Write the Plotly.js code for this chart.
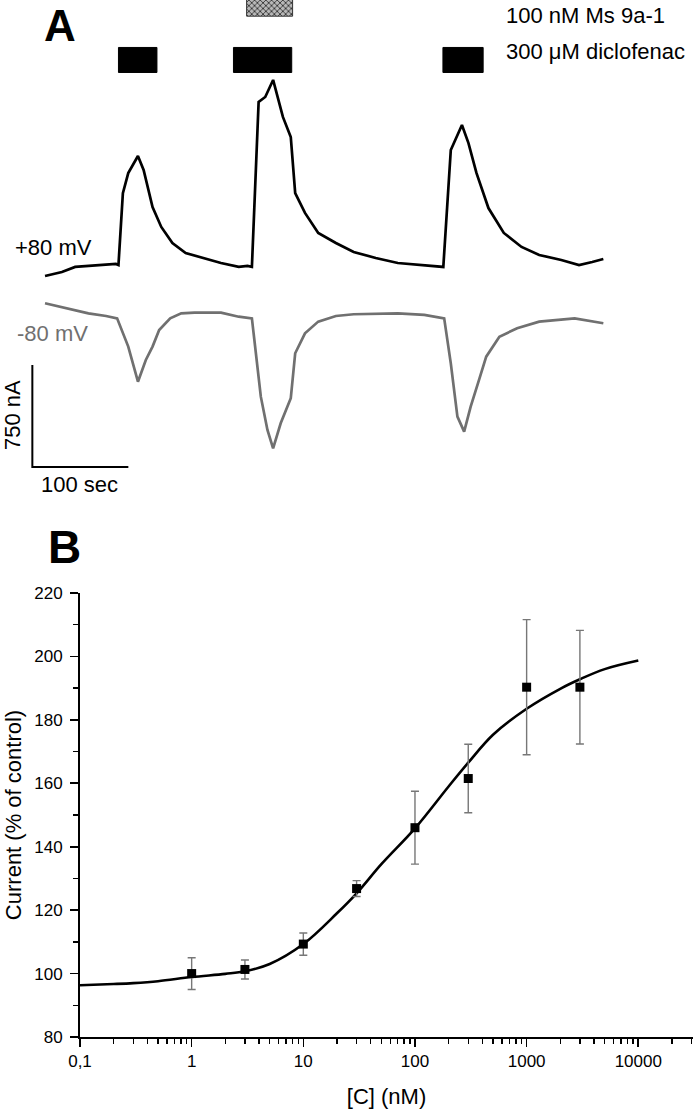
<!DOCTYPE html>
<html>
<head>
<meta charset="utf-8">
<script src="https://cdn.plot.ly/plotly-3.0.1.min.js"></script>
<style>html,body{margin:0;padding:0;background:#fff;} #chart{width:693px;height:1111px;}</style>
</head>
<body>
<div id="chart"></div>
<script>
// ---------- Panel A: two-electrode voltage clamp traces (time in s, current in nA) ----------
const tracePlus80_t = [0, 17.6, 31.4, 45.2, 63.6, 73.8, 76.5, 81.1, 86.7, 96.8, 102.7, 112, 121.1, 132.7, 146.5, 164.9, 183.3, 201.8, 210.9, 215.5,
  222.5, 229.4, 237.6, 247.8, 256.0, 260.6, 270.8, 284.6, 303, 321.5, 344.5, 367.5, 390.5, 408.9, 414.9,
  422.7, 427.3, 434.3, 441.1, 449.4, 461.9, 477.9, 496.4, 514.8, 537.8, 556.3, 570, 581.6];
const tracePlus80_I = [176, 206, 243, 250, 257, 265, 257, 786, 933, 1059, 956, 684, 537, 419, 345, 309, 272, 243, 250, 243,
  1456, 1493, 1618, 1346, 1199, 786, 640, 493, 419, 353, 309, 272, 257, 243, 243,
  1103, 1176, 1287, 1154, 934, 676, 493, 390, 331, 294, 257, 279, 301];

const traceMinus80_t = [0, 22.2, 45.2, 63.6, 75.1, 86.7, 96.8, 105, 112, 118.9, 130.4, 141.9, 155.7, 183.3, 201.8, 215.5,
  224.8, 231.7, 237.6, 245.5, 256, 260.6, 270.8, 284.6, 303, 321.5, 367.5, 395.1, 415.8,
  422.7, 429.6, 436.6, 443.4, 452.6, 459.6, 473.3, 491.8, 514.8, 537.8, 551.7, 581.6];
const traceMinus80_I = [-24, -61, -98, -118, -135, -343, -601, -441, -343, -221, -135, -98, -93, -93, -123, -135,
  -711, -956, -1091, -907, -723, -392, -245, -159, -118, -105, -98, -110, -135,
  -466, -858, -968, -784, -576, -417, -270, -208, -159, -142, -135, -171];

// drug application periods (s)
const diclofenacStart = [76.5, 196.3, 414.5];
const diclofenacEnd   = [116.6, 257, 456.4];
const toxinStart = [210];
const toxinEnd   = [257.9];

// scale bar values
const scaleBarSec = 100;
const scaleBarNA = 750;

// ---------- Panel B: concentration-response ----------
const conc = [1, 3, 10, 30, 100, 300, 1000, 3000];
const currentPct = [100, 101.3, 109.3, 126.8, 146, 161.5, 190.3, 190.3];
const currentErr = [5, 3, 3.5, 2.5, 11.5, 10.8, 21.3, 17.9];

const fitX = [0.1, 0.2, 0.3, 0.5, 1, 2, 3, 5, 10, 20, 30, 50, 100, 200, 300, 500, 1000, 2000, 3000, 5000, 10000];
const fitY = [96.3, 96.7, 97.0, 97.6, 98.9, 99.9, 100.7, 103.0, 109.3, 119.0, 125.3, 134.5, 145.8, 159.0, 166.5, 175.3, 183.5, 189.8, 192.8, 196.0, 198.7];

const xTickVals = [0.1, 1, 10, 100, 1000, 10000];
const xTickText = ['0,1', '1', '10', '100', '1000', '10000'];

// ---------- layout helpers ----------
const W = 693, H = 1111;
const px = x => x / W;
const py = y => 1 - y / H;
const FONT = '"Liberation Sans", Arial, Helvetica, sans-serif';
const GRAY = '#707070';

const minorX = [];
for (let d = -1; d <= 4; d++) for (let k = 2; k <= 9; k++) minorX.push(k * Math.pow(10, d));

const durations = (s, e) => s.map((v, i) => e[i] - v);

const barLevelDic = 1834, barLevelTox = 2110, barThick = 184;
const scaleCornerT = -13.2, scaleCornerI = -1228;

const traces = [
  {x: tracePlus80_t, y: tracePlus80_I, xaxis: 'x2', yaxis: 'y2', mode: 'lines',
   line: {color: '#000', width: 2.7}, hoverinfo: 'skip'},
  {x: traceMinus80_t, y: traceMinus80_I, xaxis: 'x2', yaxis: 'y2', mode: 'lines',
   line: {color: GRAY, width: 2.7}, hoverinfo: 'skip'},
  {type: 'bar', orientation: 'h', xaxis: 'x2', yaxis: 'y2',
   base: diclofenacStart, x: durations(diclofenacStart, diclofenacEnd),
   y: diclofenacStart.map(() => barLevelDic), width: barThick,
   marker: {color: '#000', line: {color: '#000', width: 1}}, hoverinfo: 'skip'},
  {type: 'bar', orientation: 'h', xaxis: 'x2', yaxis: 'y2',
   base: toxinStart, x: durations(toxinStart, toxinEnd),
   y: toxinStart.map(() => barLevelTox), width: barThick,
   marker: {color: '#999', line: {color: '#333', width: 1},
            pattern: {shape: 'x', fgcolor: '#333', bgcolor: '#b8b8b8', size: 4, solidity: 0.4}},
   hoverinfo: 'skip'},
  {x: [scaleCornerT, scaleCornerT, scaleCornerT + scaleBarSec],
   y: [scaleCornerI + scaleBarNA, scaleCornerI, scaleCornerI],
   xaxis: 'x2', yaxis: 'y2', mode: 'lines', line: {color: '#000', width: 2}, hoverinfo: 'skip'},
  // Panel B
  {x: fitX, y: fitY, mode: 'lines', line: {color: '#000', width: 2.6, shape: 'spline', smoothing: 1},
   xaxis: 'x', yaxis: 'y', hoverinfo: 'skip'},
  {x: conc, y: currentPct, mode: 'markers', xaxis: 'x', yaxis: 'y',
   marker: {symbol: 'square', size: 9, color: '#000'},
   error_y: {type: 'data', array: currentErr, visible: true, color: '#777', thickness: 1.4, width: 4}}
];

const layout = {
  width: W, height: H,
  margin: {l: 0, r: 0, t: 0, b: 0},
  paper_bgcolor: '#fff', plot_bgcolor: 'rgba(0,0,0,0)',
  showlegend: false,
  font: {family: FONT, color: '#000', size: 17},
  bargap: 0,
  xaxis: {
    domain: [px(80), 1], type: 'log', range: [-1, 4.49], anchor: 'y',
    showline: true, linecolor: '#000', linewidth: 2, mirror: false,
    showgrid: false, zeroline: false,
    ticks: 'outside', ticklen: 8, tickwidth: 1.6, tickcolor: '#000',
    tickvals: xTickVals, ticktext: xTickText, tickfont: {size: 17},
    minor: {tickvals: minorX, ticks: 'outside', ticklen: 5, tickwidth: 1.4, tickcolor: '#000', showgrid: false},
    title: {text: '[C] (nM)', font: {size: 22}, standoff: 18},
    automargin: false
  },
  yaxis: {
    domain: [py(1037), py(593)], range: [80, 220], anchor: 'x',
    showline: true, linecolor: '#000', linewidth: 2,
    showgrid: false, zeroline: false,
    ticks: 'outside', ticklen: 8, tickwidth: 1.6, tickcolor: '#000',
    dtick: 20, tick0: 80, tickfont: {size: 17}, ticklabelstandoff: 4,
    minor: {dtick: 10, ticks: 'outside', ticklen: 5, tickwidth: 1.4, tickcolor: '#000', showgrid: false},
    title: {text: 'Current (% of control)', font: {size: 22}, standoff: 7},
    automargin: false
  },
  xaxis2: {domain: [0, 1], range: [-46.9, 675], anchor: 'y2', visible: false, fixedrange: true},
  yaxis2: {domain: [py(520), 1], range: [-1618, 2206], anchor: 'x2', visible: false, fixedrange: true},
  annotations: [
    {text: '<b>A</b>', x: px(60), y: py(25), xref: 'paper', yref: 'paper', showarrow: false,
     font: {size: 44, family: FONT}, xanchor: 'center', yanchor: 'middle'},
    {text: '<b>B</b>', x: px(64), y: py(547), xref: 'paper', yref: 'paper', showarrow: false,
     font: {size: 46, family: FONT}, xanchor: 'center', yanchor: 'middle'},
    {text: '100 nM Ms 9a-1', x: px(504), y: py(15), xref: 'paper', yref: 'paper', showarrow: false,
     font: {size: 22}, xanchor: 'left', yanchor: 'middle'},
    {text: '300 μM diclofenac', x: px(504), y: py(51), xref: 'paper', yref: 'paper', showarrow: false,
     font: {size: 22}, xanchor: 'left', yanchor: 'middle'},
    {text: '+80 mV', x: px(13), y: py(248), xref: 'paper', yref: 'paper', showarrow: false,
     font: {size: 22}, xanchor: 'left', yanchor: 'middle'},
    {text: '-80 mV', x: px(15), y: py(334), xref: 'paper', yref: 'paper', showarrow: false,
     font: {size: 22, color: GRAY}, xanchor: 'left', yanchor: 'middle'},
    {text: '750 nA', x: px(12), y: py(415), xref: 'paper', yref: 'paper', showarrow: false,
     font: {size: 22}, textangle: -90, xanchor: 'center', yanchor: 'middle'},
    {text: '100 sec', x: px(79), y: py(485), xref: 'paper', yref: 'paper', showarrow: false,
     font: {size: 22}, xanchor: 'center', yanchor: 'middle'}
  ]
};

Plotly.newPlot('chart', traces, layout, {staticPlot: true, displayModeBar: false});
</script>
</body>
</html>
